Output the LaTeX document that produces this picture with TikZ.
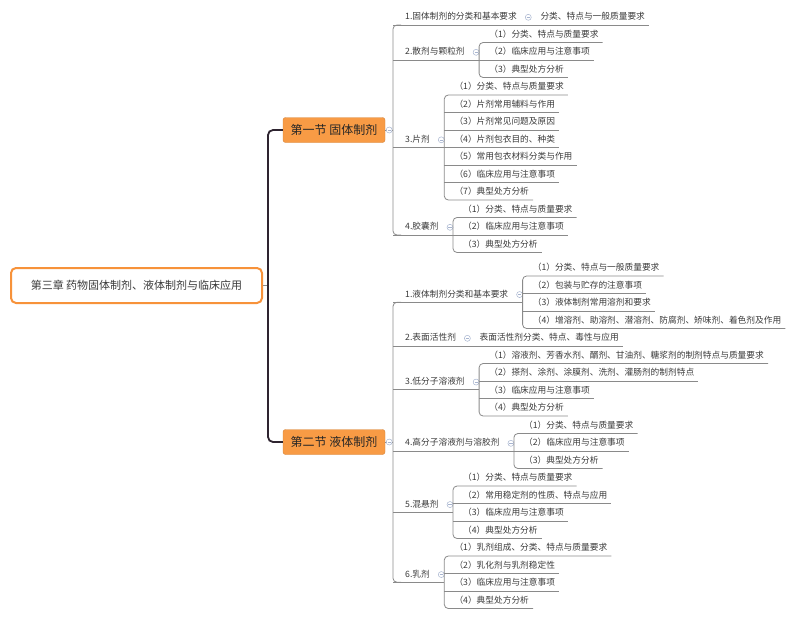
\documentclass[tikz,border=0pt]{standalone}
\usepackage{fontspec}
\setmainfont{Noto Sans CJK SC}
\usetikzlibrary{positioning,calc}
\definecolor{orangefill}{HTML}{F89B45}
\definecolor{orangeline}{HTML}{F7923A}
\definecolor{linkgray}{HTML}{8A8A8A}
\definecolor{trunkdark}{HTML}{2E2430}
\definecolor{foldblue}{HTML}{A7B4CF}
\definecolor{textdark}{HTML}{3A3A3A}
\tikzset{
  rootbox/.style  = {draw=orangeline, line width=2pt, rounded corners=5pt, fill=white,
                     minimum width=251pt, minimum height=35pt,
                     font=\fontsize{11}{13}\selectfont, text=textdark},
  sectbox/.style  = {fill=orangefill, draw=orangefill!85!black, line width=0.4pt,
                     rounded corners=2.5pt, minimum width=102pt, minimum height=25pt,
                     font=\fontsize{12}{14}\selectfont, text=black!85},
  textbase/.style = {anchor=south west, inner xsep=0pt, inner ysep=3pt, text height=7pt,
                     text depth=2pt, font=\fontsize{8.7}{10}\selectfont, text=textdark},
  topic/.style    = {textbase, execute at begin node={\kern12pt}},
  leaf/.style     = {textbase, execute at begin node={\kern10pt}, execute at end node={\kern4pt}},
  link/.style     = {draw=linkgray, line width=0.8pt},
  trunk/.style    = {draw=trunkdark, line width=1.8pt, rounded corners=5pt},
  fold/.style     = {circle, draw=foldblue, fill=white, line width=0.5pt, minimum size=6pt,
                     inner sep=0pt,
                     path picture={\draw[foldblue, line width=0.5pt]
                       ([xshift=-1.6pt]path picture bounding box.center) --
                       ([xshift=1.6pt]path picture bounding box.center);}},
}

\begin{document}
\begin{tikzpicture}[x=1pt, y=-1pt, node distance=8pt]
  \useasboundingbox (0,0) rectangle (800,618);

  % chapter and the two sections
  \node[rootbox] (root) at (136.5,285.5) {第三章 药物固体制剂、液体制剂与临床应用};
  \node[sectbox] (s1) at (334,130) {第一节 固体制剂};
  \node[sectbox] (s2) at (334,442) {第二节 液体制剂};
  \coordinate (rj) at (268,285.5);
  \draw[link] (root.east) -- (rj);
  \draw[trunk] (s1.west) -| (rj) |- (s2.west);

  % ---- section 1 ----
  \coordinate (sp1) at (393,130);
  \node[topic] (t11) at (393,25)    {1.固体制剂的分类和基本要求};
  \node[topic] (t12) at (393,60)    {2.散剂与颗粒剂};
  \node[topic] (t13) at (393,147.5) {3.片剂};
  \node[topic] (t14) at (393,235)   {4.胶囊剂};
  \draw[link] (s1.east) -- (sp1);
  \node[fold] (f1) at ($(s1.east)+(4,0)$) {};
  \draw[link, rounded corners=4pt] ([xshift=8pt]t11.south west) -| (sp1) |- ([xshift=8pt]t14.south west);

  \node[fold, right=of t11] (f11) {};
  \node[leaf] (c11) at ($(f11.center |- t11.south)+(2,0)$) {分类、特点与一般质量要求};
  \draw[link] (t11.south west) -- (c11.south east);

  \node[fold, right=of t12] (f12) {};
  \coordinate (b12) at ($(f12.center |- t12.south)+(3,0)$);
  \node[leaf] (c12a) at ($(b12)+(0,-17.5)$) {（1）分类、特点与质量要求};
  \node[leaf] (c12b) at (b12)               {（2）临床应用与注意事项};
  \node[leaf] (c12c) at ($(b12)+(0,17.5)$)  {（3）典型处方分析};
  \draw[link] (t12.south west) -- (b12);
  \draw[link, rounded corners=4pt] (c12a.south east) -- (c12a.south west) -- (c12c.south west) -- (c12c.south east);
  \draw[link] (c12b.south west) -- (c12b.south east);

  \node[fold, right=of t13] (f13) {};
  \coordinate (b13) at ($(f13.center |- t13.south)+(3,0)$);
  \node[leaf] (c13a) at ($(b13)+(0,-52.5)$) {（1）分类、特点与质量要求};
  \node[leaf] (c13b) at ($(b13)+(0,-35)$)   {（2）片剂常用辅料与作用};
  \node[leaf] (c13c) at ($(b13)+(0,-17.5)$) {（3）片剂常见问题及原因};
  \node[leaf] (c13d) at (b13)               {（4）片剂包衣目的、种类};
  \node[leaf] (c13e) at ($(b13)+(0,17.5)$)  {（5）常用包衣材料分类与作用};
  \node[leaf] (c13f) at ($(b13)+(0,35)$)    {（6）临床应用与注意事项};
  \node[leaf] (c13g) at ($(b13)+(0,52.5)$)  {（7）典型处方分析};
  \draw[link] (t13.south west) -- (b13);
  \draw[link, rounded corners=4pt] (c13a.south east) -- (c13a.south west) -- (c13g.south west) -- (c13g.south east);
  \draw[link] (c13b.south west) -- (c13b.south east) (c13c.south west) -- (c13c.south east)
              (c13d.south west) -- (c13d.south east) (c13e.south west) -- (c13e.south east)
              (c13f.south west) -- (c13f.south east);

  \node[fold, right=of t14] (f14) {};
  \coordinate (b14) at ($(f14.center |- t14.south)+(3,0)$);
  \node[leaf] (c14a) at ($(b14)+(0,-17.5)$) {（1）分类、特点与质量要求};
  \node[leaf] (c14b) at (b14)               {（2）临床应用与注意事项};
  \node[leaf] (c14c) at ($(b14)+(0,17.5)$)  {（3）典型处方分析};
  \draw[link] (t14.south west) -- (b14);
  \draw[link, rounded corners=4pt] (c14a.south east) -- (c14a.south west) -- (c14c.south west) -- (c14c.south east);
  \draw[link] (c14b.south west) -- (c14b.south east);

  % ---- section 2 ----
  \coordinate (sp2) at (393,442);
  \node[topic] (t21) at (393,302.25) {1.液体制剂分类和基本要求};
  \node[topic] (t22) at (393,346)    {2.表面活性剂};
  \node[topic] (t23) at (393,389.75) {3.低分子溶液剂};
  \node[topic] (t24) at (393,451)    {4.高分子溶液剂与溶胶剂};
  \node[topic] (t25) at (393,512.25) {5.混悬剂};
  \node[topic] (t26) at (393,582.25) {6.乳剂};
  \draw[link] (s2.east) -- (sp2);
  \node[fold] (f2) at ($(s2.east)+(4,0)$) {};
  \draw[link, rounded corners=4pt] ([xshift=8pt]t21.south west) -| (sp2) |- ([xshift=8pt]t26.south west);
  \draw[link] (t23.south west) -- (t23.south west -| sp2) (t24.south west) -- (t24.south west -| sp2)
              (t25.south west) -- (t25.south west -| sp2);

  \node[fold, right=of t21] (f21) {};
  \coordinate (b21) at ($(f21.center |- t21.south)+(3,0)$);
  \node[leaf] (c21a) at ($(b21)+(0,-26.25)$) {（1）分类、特点与一般质量要求};
  \node[leaf] (c21b) at ($(b21)+(0,-8.75)$)  {（2）包装与贮存的注意事项};
  \node[leaf] (c21c) at ($(b21)+(0,8.75)$)   {（3）液体制剂常用溶剂和要求};
  \node[leaf] (c21d) at ($(b21)+(0,26.25)$)  {（4）增溶剂、助溶剂、潜溶剂、防腐剂、矫味剂、着色剂及作用};
  \draw[link] (t21.south west) -- (b21);
  \draw[link, rounded corners=4pt] (c21a.south east) -- (c21a.south west) -- (c21d.south west) -- (c21d.south east);
  \draw[link] (c21b.south west) -- (c21b.south east) (c21c.south west) -- (c21c.south east);

  \node[fold, right=of t22] (f22) {};
  \node[leaf] (c22) at ($(f22.center |- t22.south)+(2,0)$) {表面活性剂分类、特点、毒性与应用};
  \draw[link] (t22.south west) -- (c22.south east);

  \node[fold, right=of t23] (f23) {};
  \coordinate (b23) at ($(f23.center |- t23.south)+(3,0)$);
  \node[leaf] (c23a) at ($(b23)+(0,-26.25)$) {（1）溶液剂、芳香水剂、醑剂、甘油剂、糖浆剂的制剂特点与质量要求};
  \node[leaf] (c23b) at ($(b23)+(0,-8.75)$)  {（2）搽剂、涂剂、涂膜剂、洗剂、灌肠剂的制剂特点};
  \node[leaf] (c23c) at ($(b23)+(0,8.75)$)   {（3）临床应用与注意事项};
  \node[leaf] (c23d) at ($(b23)+(0,26.25)$)  {（4）典型处方分析};
  \draw[link] (t23.south west) -- (b23);
  \draw[link, rounded corners=4pt] (c23a.south east) -- (c23a.south west) -- (c23d.south west) -- (c23d.south east);
  \draw[link] (c23b.south west) -- (c23b.south east) (c23c.south west) -- (c23c.south east);

  \node[fold, right=of t24] (f24) {};
  \coordinate (b24) at ($(f24.center |- t24.south)+(3,0)$);
  \node[leaf] (c24a) at ($(b24)+(0,-17.5)$) {（1）分类、特点与质量要求};
  \node[leaf] (c24b) at (b24)               {（2）临床应用与注意事项};
  \node[leaf] (c24c) at ($(b24)+(0,17.5)$)  {（3）典型处方分析};
  \draw[link] (t24.south west) -- (b24);
  \draw[link, rounded corners=4pt] (c24a.south east) -- (c24a.south west) -- (c24c.south west) -- (c24c.south east);
  \draw[link] (c24b.south west) -- (c24b.south east);

  \node[fold, right=of t25] (f25) {};
  \coordinate (b25) at ($(f25.center |- t25.south)+(3,0)$);
  \node[leaf] (c25a) at ($(b25)+(0,-26.25)$) {（1）分类、特点与质量要求};
  \node[leaf] (c25b) at ($(b25)+(0,-8.75)$)  {（2）常用稳定剂的性质、特点与应用};
  \node[leaf] (c25c) at ($(b25)+(0,8.75)$)   {（3）临床应用与注意事项};
  \node[leaf] (c25d) at ($(b25)+(0,26.25)$)  {（4）典型处方分析};
  \draw[link] (t25.south west) -- (b25);
  \draw[link, rounded corners=4pt] (c25a.south east) -- (c25a.south west) -- (c25d.south west) -- (c25d.south east);
  \draw[link] (c25b.south west) -- (c25b.south east) (c25c.south west) -- (c25c.south east);

  \node[fold, right=of t26] (f26) {};
  \coordinate (b26) at ($(f26.center |- t26.south)+(3,0)$);
  \node[leaf] (c26a) at ($(b26)+(0,-26.25)$) {（1）乳剂组成、分类、特点与质量要求};
  \node[leaf] (c26b) at ($(b26)+(0,-8.75)$)  {（2）乳化剂与乳剂稳定性};
  \node[leaf] (c26c) at ($(b26)+(0,8.75)$)   {（3）临床应用与注意事项};
  \node[leaf] (c26d) at ($(b26)+(0,26.25)$)  {（4）典型处方分析};
  \draw[link] (t26.south west) -- (b26);
  \draw[link, rounded corners=4pt] (c26a.south east) -- (c26a.south west) -- (c26d.south west) -- (c26d.south east);
  \draw[link] (c26b.south west) -- (c26b.south east) (c26c.south west) -- (c26c.south east);
\end{tikzpicture}
\end{document}
